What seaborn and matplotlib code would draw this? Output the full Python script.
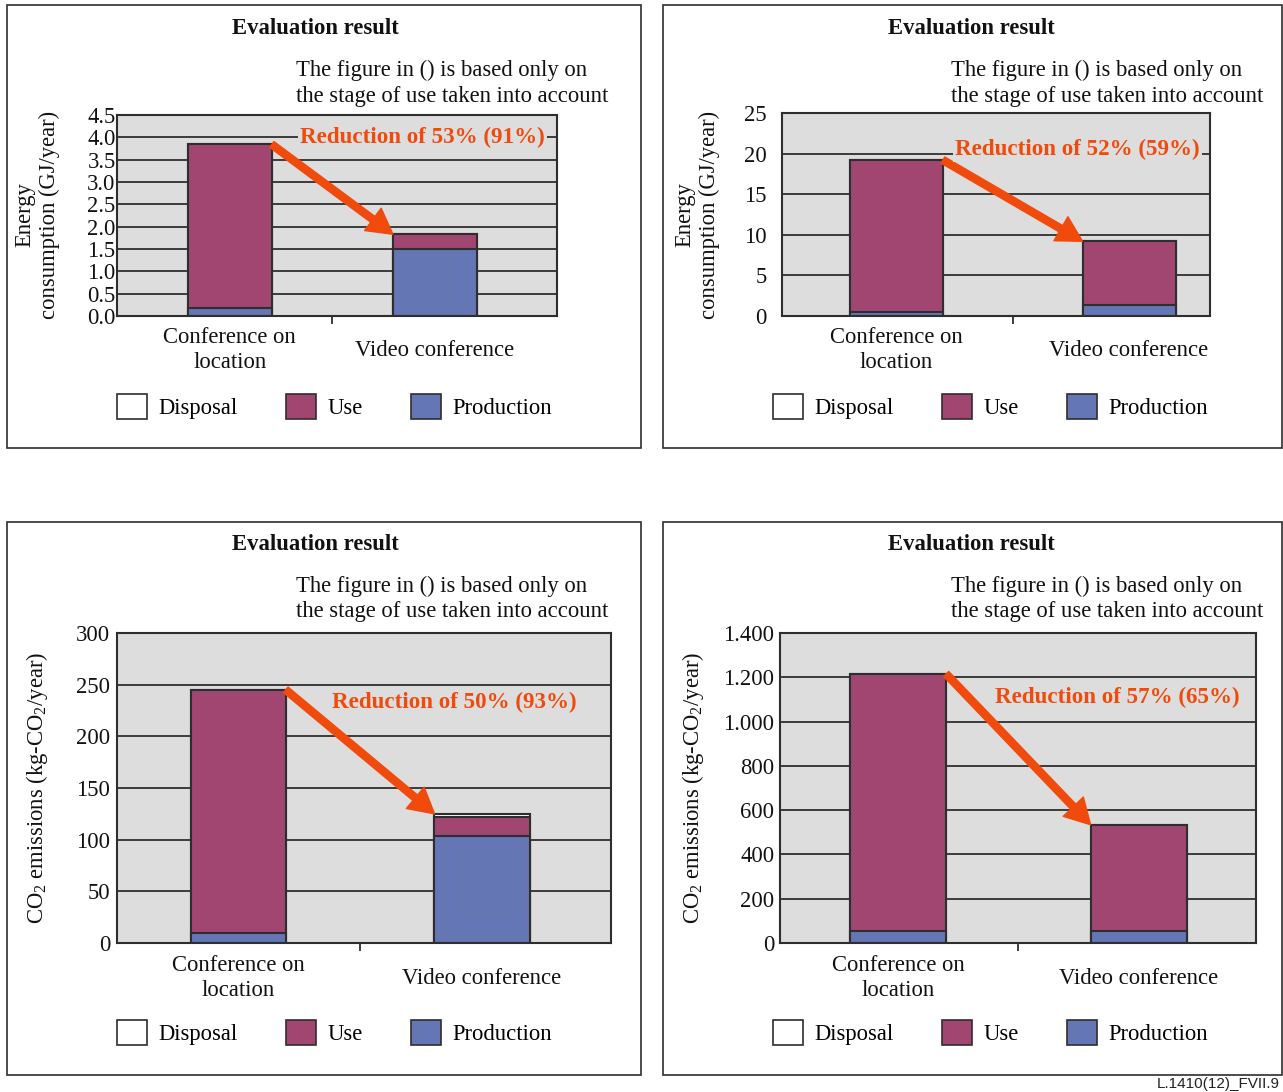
import numpy as np
import pandas as pd
import matplotlib
matplotlib.use('Agg')
import matplotlib.pyplot as plt
from matplotlib.patches import Rectangle, Patch
from matplotlib.ticker import FuncFormatter
import seaborn as sns

# values (stacked: production, use, disposal)
categories = ['Conference on\nlocation', 'Video conference']
stages = ['Disposal', 'Use', 'Production']

energy_a_production = [0.17, 1.49]
energy_a_use = [3.67, 0.34]
energy_a_disposal = [0.0, 0.0]

energy_b_production = [0.45, 1.35]
energy_b_use = [18.75, 7.85]
energy_b_disposal = [0.0, 0.0]

co2_a_production = [10, 104]
co2_a_use = [235, 18]
co2_a_disposal = [0, 3]

co2_b_production = [55, 55]
co2_b_use = [1160, 479]
co2_b_disposal = [0, 0]

reductions = ['Reduction of 53% (91%)', 'Reduction of 52% (59%)',
              'Reduction of 50% (93%)', 'Reduction of 57% (65%)']
note = 'The figure in () is based only on\nthe stage of use taken into account'
energy_label = 'Energy\nconsumption (GJ/year)'
co2_label = r'CO$_\mathrm{2}$ emissions (kg-CO$_\mathrm{2}$/year)'

USE = '#A04670'
PROD = '#6576B4'
DISP = '#FFFFFF'
BG = '#DDDDDD'
DARK = '#2E2E2E'
RED = '#F04A0C'
FS = 16.3

plt.rcParams['font.family'] = ['Liberation Serif', 'DejaVu Serif']
plt.rcParams['mathtext.fontset'] = 'custom'
plt.rcParams['mathtext.rm'] = 'Liberation Serif'
plt.rcParams['mathtext.it'] = 'Liberation Serif:italic'

W, H = 1283, 1092
fig = plt.figure(figsize=(W / 100, H / 100), dpi=100)


def px(x, y):
    return x / W, 1 - y / H


def panel(box, rect, xlim, prod, use, disp, ymax, step, fmt, ylabel, ylab_xy,
          ypad, red_text, red_xy, leg_xy, note_xy, note_ls, title_xy, cat_dy,
          width):
    # outer frame
    x0, y0, x1, y1 = box
    fig.add_artist(Rectangle(px(x0, y1), (x1 - x0) / W, (y1 - y0) / H,
                             transform=fig.transFigure, fill=False,
                             edgecolor=DARK, lw=1.2))
    l, t, r, b = rect
    ax = fig.add_axes([l / W, 1 - b / H, (r - l) / W, (b - t) / H])

    df = pd.DataFrame({'category': categories, 'production': prod,
                       'use': use, 'disposal': disp})
    df['use_top'] = df['production'] + df['use']
    df['total'] = df['use_top'] + df['disposal']
    for col, color in [('total', DISP), ('use_top', USE), ('production', PROD)]:
        sns.barplot(data=df, x='category', y=col, color=color, width=width,
                    saturation=1, edgecolor=DARK, linewidth=1.5,
                    errorbar=None, ax=ax)

    ax.set_xlim(*xlim)
    ax.set_ylim(0, ymax)
    ax.set_yticks(np.arange(0, ymax + step / 2, step))
    ax.yaxis.set_major_formatter(FuncFormatter(fmt))
    ax.set_facecolor(BG)
    ax.yaxis.grid(True, color=DARK, lw=1.3)
    ax.set_axisbelow(True)
    for s in ax.spines.values():
        s.set_color(DARK)
        s.set_linewidth(1.5)
    ax.set_xlabel('')
    ax.set_ylabel('')
    ax.set_xticks([0, 1])
    ax.set_xticklabels([])
    ax.set_xticks([0.5], minor=True)
    ax.tick_params(axis='x', which='major', length=0)
    ax.tick_params(axis='x', which='minor', length=6, width=1.3,
                   color=DARK, direction='out', bottom=True)
    ax.tick_params(axis='y', length=0, pad=ypad, labelsize=FS,
                   labelcolor='#111111')

    axh = b - t
    for i, cat in enumerate(categories):
        ax.text(i, -cat_dy / axh, cat, transform=ax.get_xaxis_transform(),
                ha='center', va='center', fontsize=FS, color='#111111')

    totals = df['total'].values
    w2 = width / 2
    ax.annotate('', xy=(1 - w2, totals[1]), xytext=(w2, totals[0]),
                xycoords='data', textcoords='data',
                arrowprops=dict(arrowstyle='simple,head_length=0.9,'
                                'head_width=1.0,tail_width=0.26',
                                mutation_scale=20, color=RED,
                                shrinkA=0, shrinkB=0), zorder=5)
    rx, ry = red_xy
    ax.text((rx - l) / (r - l), (b - ry) / axh, red_text,
            transform=ax.transAxes, ha='left', va='center', fontsize=16.6,
            fontweight='bold', color=RED, zorder=6,
            bbox=dict(facecolor=BG, edgecolor='none', pad=1.5))

    handles = [Patch(facecolor=c, edgecolor=DARK, lw=1.2)
               for c in [DISP, USE, PROD]]
    ax.legend(handles, stages, loc='upper left', bbox_to_anchor=px(*leg_xy),
              bbox_transform=fig.transFigure, ncol=3, frameon=False,
              borderpad=0, borderaxespad=0, handlelength=1.33,
              handleheight=1.33, handletextpad=0.49, columnspacing=2.15,
              fontsize=FS)

    fig.text(*px(*ylab_xy), ylabel, rotation=90, ha='center', va='center',
             multialignment='center', fontsize=FS, color='#111111')
    fig.text(*px(*title_xy), 'Evaluation result', ha='center', va='center',
             fontsize=FS, fontweight='bold', color='#111111')
    fig.text(*px(*note_xy), note, ha='left', va='center', fontsize=FS,
             color='#111111', linespacing=note_ls)
    return ax


energy_fmt = lambda v, p: f'{v:.1f}'
int_fmt = lambda v, p: f'{int(round(v))}'
dot_fmt = lambda v, p: f'{int(round(v)):,}'.replace(',', '.')

panel((7, 5, 641, 448), (117, 115, 557, 316), (-0.549, 1.594),
      energy_a_production, energy_a_use, energy_a_disposal, 4.5, 0.5,
      energy_fmt, energy_label, (37, 215), 1, reductions[0], (300, 137),
      (117, 394), (296, 83), 1.32, (315, 29), 34, 0.41)

panel((663, 5, 1282, 448), (782, 113, 1210, 316), (-0.492, 1.348),
      energy_b_production, energy_b_use, energy_b_disposal, 25, 5,
      int_fmt, energy_label, (697, 215), 11, reductions[1], (955, 149),
      (773, 394), (951, 83), 1.32, (971, 29), 34, 0.40)

panel((7, 522, 641, 1075), (117, 633, 611, 943), (-0.497, 1.529),
      co2_a_production, co2_a_use, co2_a_disposal, 300, 50,
      int_fmt, co2_label, (37, 788), 5, reductions[2], (332, 702),
      (117, 1020), (296, 599), 1.23, (315, 545), 35, 0.39)

panel((663, 522, 1282, 1075), (780, 633, 1256, 943), (-0.49, 1.487),
      co2_b_production, co2_b_use, co2_b_disposal, 1400, 200,
      dot_fmt, co2_label, (693, 788), 4, reductions[3], (995, 697),
      (773, 1020), (951, 599), 1.23, (971, 545), 35, 0.40)

fig.text(*px(1280, 1084), 'L.1410(12)_FVII.9', ha='right', va='center',
         fontsize=11, family=['Liberation Sans', 'DejaVu Sans'],
         color='#222222')

fig.savefig('out.png', dpi=100)
